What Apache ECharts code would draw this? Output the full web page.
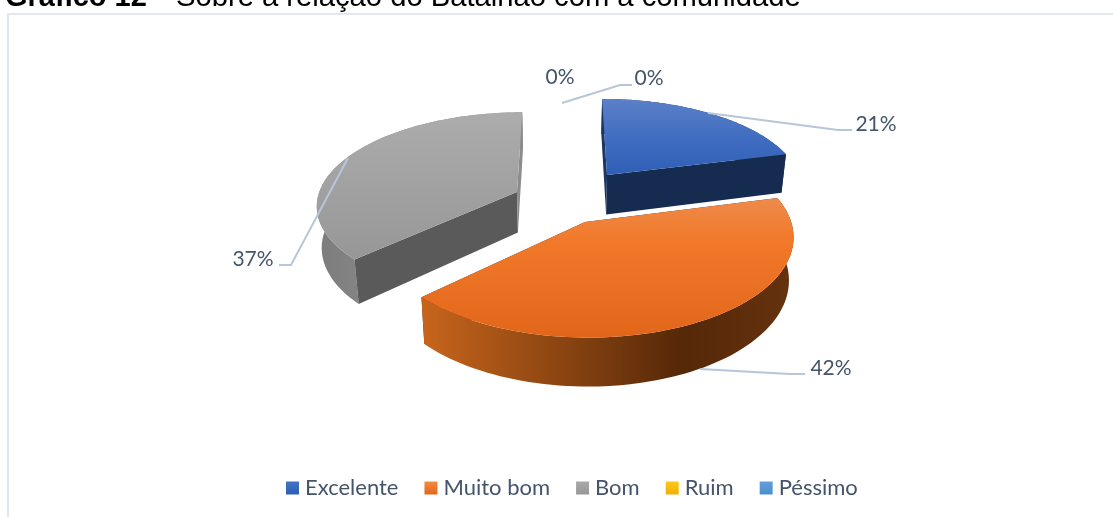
<!DOCTYPE html>
<html><head><meta charset="utf-8">
<style>html,body{margin:0;padding:0;background:#fff}#c{width:1113px;height:517px}</style>
<script src="https://cdn.jsdelivr.net/npm/echarts@6/dist/echarts.min.js"></script>
</head><body><div id="c"></div>
<script>
const categories = ['Excelente','Muito bom','Bom','Ruim','Péssimo'];
const values = [21,42,37,0,0];

// layout of the perspective drawing (not data)
const P = {xc:563, yc:200, rx:203, ry:92, k:0.13, h:41, shrink:0.98};
const apexPx = [[607,175],[585,222],[517,192],[562,103],[562,103]];
const radiusScale = [0.98,0.985,0.985,1,1];
const depthScale = [1,1.02,1,1,1];
const wallFirst = [true,false,true,true,true];
const labelPx = [[876,124],[831,368],[253,259],[560,77],[649,78]];
const leaderPx = [
  [[708,113],[838,130],[852,130]],
  [[700,369],[790,374],[805,374]],
  [[348,158],[291,265],[279,265]],
  null,
  [[562,103],[620,85],[632,85]]
];
const z = [2,4,3,1,1];
const lg = (stops,h)=>new echarts.graphic.LinearGradient(0,0,h?1:0,h?0:1,stops.map((c)=>({offset:c[0],color:c[1]})));
const topFill = [
  lg([[0,'#5b80c8'],[0.55,'#3f6cc0'],[1,'#2e5fb5']]),
  lg([[0,'#ee8b4c'],[0.3,'#f2792a'],[1,'#e1661a']]),
  lg([[0,'#acacac'],[1,'#979797']])
];
const wallFill = [
  '#1c3563',
  lg([[0,'#c8651c'],[0.35,'#8f4712'],[0.7,'#552808'],[1,'#66320e']],true),
  lg([[0,'#7c7c7c'],[0.8,'#9a9a9a'],[1,'#8f8f8f']],true)
];
const startFace = ['#1c3563','#552808','#5a5a5a'];
const endFace = ['#162b50','#552808','#8c8c8c'];
const legendColors = [
  lg([[0,'#4472c4'],[1,'#2e5fb5']]),
  lg([[0,'#f58a43'],[1,'#e1661a']]),
  lg([[0,'#a9a9a9'],[1,'#979797']]),
  lg([[0,'#ffc81a'],[1,'#eeb100']]),
  lg([[0,'#629fdc'],[1,'#4b8ecb']])
];

const total = values.reduce((a,b)=>a+b,0);
function worldOfScreen(px){
  const f=P.yc-px[1];
  const Y=f/(P.ry-P.k*f);
  const s=1/(1+P.k*Y);
  return [(px[0]-P.xc)/(P.rx*s),Y];
}
function project(X,Y,low){
  const s=1/(1+P.k*Y);
  const sx=low?P.shrink:1;
  return [P.xc+P.rx*X*s*sx, P.yc-P.ry*Y*s+(low?P.h*s:0)];
}
function sliceAngles(i){
  const before=values.slice(0,i).reduce((a,b)=>a+b,0);
  return [before/total*2*Math.PI,(before+values[i])/total*2*Math.PI];
}
function arcPts(i,low){
  const [a0,a1]=sliceAngles(i), [Xa,Ya]=worldOfScreen(apexPx[i]);
  const n=80,pts=[],r=radiusScale[i],d=depthScale[i];
  for(let j=0;j<=n;j++){
    const a=a0+(a1-a0)*j/n;
    pts.push(project(Xa+r*Math.sin(a),Ya+d*Math.cos(a),low));
  }
  return pts;
}
function renderSlice(i){
  return function(){
    const children=[];
    const poly=(points,fill)=>children.push({type:'polygon',shape:{points},style:{fill},silent:true});
    if(values[i]>0){
      const top=arcPts(i,false), bot=arcPts(i,true);
      const [Xa,Ya]=worldOfScreen(apexPx[i]);
      const aT=project(Xa,Ya,false), aB=project(Xa,Ya,true);
      const wall=()=>poly(top.concat(bot.slice().reverse()),wallFill[i]);
      if(wallFirst[i]) wall();
      poly([aT,top[0],bot[0],aB],startFace[i]);
      poly([aT,top[top.length-1],bot[bot.length-1],aB],endFace[i]);
      if(!wallFirst[i]) wall();
      poly([aT].concat(top),topFill[i]);
    }
    return {type:'group',children};
  };
}
function renderLabel(i){
  return function(){
    const children=[];
    if(leaderPx[i]) children.push({type:'polyline',shape:{points:leaderPx[i]},silent:true,
      style:{fill:null,stroke:'#b7c6d8',lineWidth:2}});
    children.push({type:'text',silent:true,style:{x:labelPx[i][0],y:labelPx[i][1],
      text:values[i]+'%',fill:'#44546a',font:'21px Lato',align:'center',verticalAlign:'middle'}});
    return {type:'group',children};
  };
}
const series=[];
categories.forEach((name,i)=>{
  series.push({type:'custom',name,coordinateSystem:'none',z:z[i],silent:true,animation:false,
    legendIcon:'rect',itemStyle:{color:legendColors[i]},data:[values[i]],renderItem:renderSlice(i)});
});
categories.forEach((name,i)=>{
  series.push({type:'custom',name:name+' rótulo',coordinateSystem:'none',z:10,silent:true,animation:false,
    data:[values[i]],renderItem:renderLabel(i)});
});
const chart=echarts.init(document.getElementById('c'),null,{renderer:'canvas'});
chart.setOption({
  animation:false,backgroundColor:'#fff',
  legend:{data:categories,left:281,top:472,itemWidth:13,itemHeight:13,itemGap:26,icon:'rect',selectedMode:false,
    textStyle:{color:'#44546a',fontFamily:'Lato',fontSize:22,padding:[0,0,0,1]}},
  graphic:[
    {type:'rect',shape:{x:8,y:14,width:1200,height:600},style:{fill:'none',stroke:'#e2e6ee',lineWidth:2},silent:true,z:0},
    {type:'text',x:5,y:12,silent:true,style:{text:'Gráfico 12 -',fill:'#000',font:'bold 29px "Liberation Sans"',verticalAlign:'bottom'}},
    {type:'text',x:176,y:12,silent:true,style:{text:'Sobre a relação do Batalhão com a comunidade',fill:'#000',font:'29.2px "Liberation Sans"',verticalAlign:'bottom'}}
  ],
  series
});
</script></body></html>
